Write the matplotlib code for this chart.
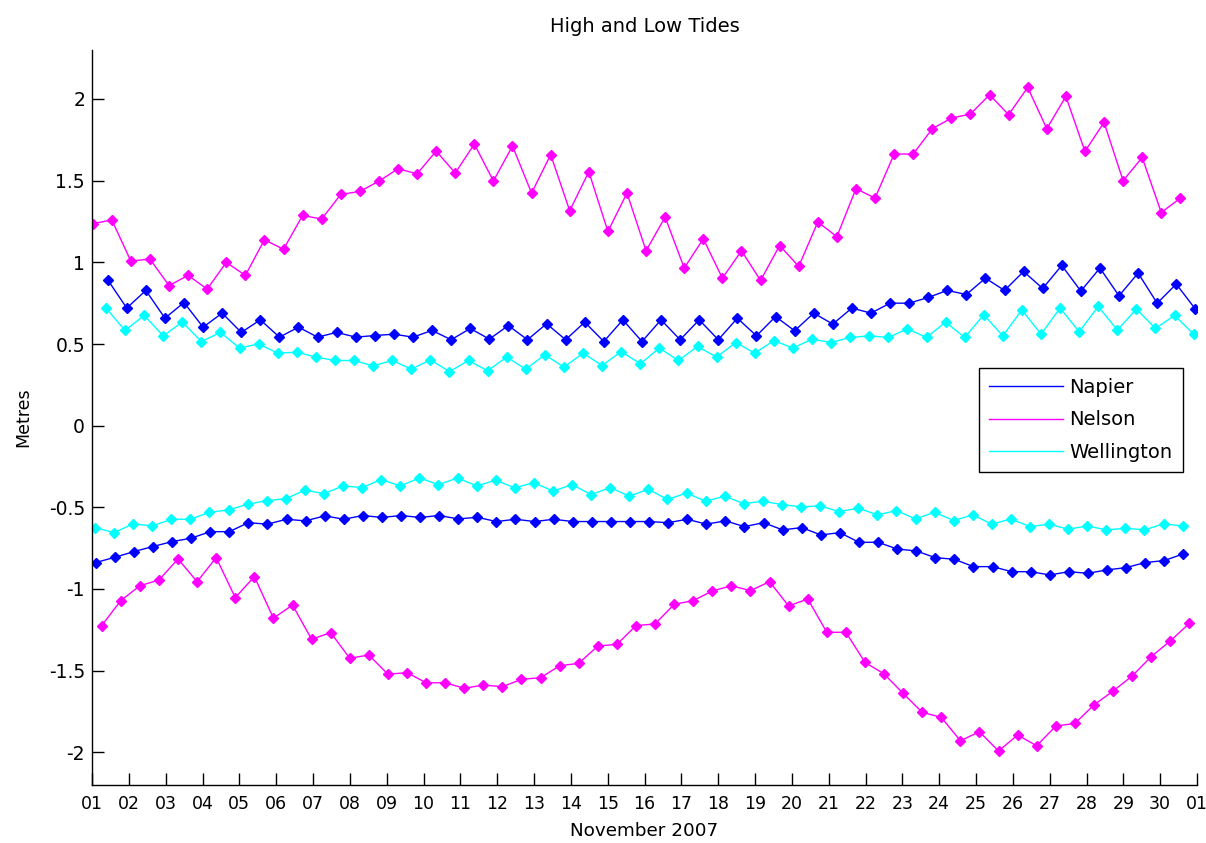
import datetime as dt

import matplotlib
matplotlib.use("Agg")
import matplotlib.pyplot as plt
import matplotlib.dates as mdates
from matplotlib.lines import Line2D
from matplotlib.ticker import FixedLocator, FuncFormatter

plt.rcParams["font.family"] = ["DejaVu Sans"]
plt.rcParams["axes.unicode_minus"] = False

# Stations and line colours
stations = ["Napier", "Nelson", "Wellington"]
station_colors = ["#0000ff", "#ff00ff", "#00ffff"]

# Time of the first high and low water at each station, November 2007
first_high = ["2007-11-01 10:13", "2007-11-01 00:27", "2007-11-01 09:07"]
first_low = ["2007-11-01 02:24", "2007-11-01 06:19", "2007-11-01 01:57"]
tide_interval_minutes = 746  # successive high (or low) waters, 12 h 26 min apart

# High-water heights (metres)
napier_high = [0.893, 0.72, 0.828, 0.658, 0.754, 0.603, 0.689, 0.571, 0.648, 0.542,
               0.603, 0.542, 0.571, 0.542, 0.552, 0.56, 0.542, 0.583, 0.526,
               0.595, 0.530, 0.613, 0.526, 0.624, 0.526, 0.634, 0.515, 0.648, 0.515,
               0.648, 0.526, 0.648, 0.526, 0.658, 0.55, 0.668, 0.581, 0.689,
               0.622, 0.72, 0.689, 0.75, 0.75, 0.785, 0.828, 0.803, 0.903, 0.828,
               0.944, 0.84, 0.981, 0.824, 0.965, 0.795, 0.934, 0.75, 0.867, 0.714]
nelson_high = [1.236, 1.26, 1.008, 1.02, 0.858, 0.92, 0.836, 1.0, 0.92, 1.138,
               1.08, 1.287, 1.265, 1.416, 1.434, 1.497, 1.573, 1.542, 1.681, 1.547,
               1.724, 1.498, 1.712, 1.424, 1.659, 1.316, 1.555, 1.189, 1.424, 1.071,
               1.277, 0.965, 1.144, 0.903, 1.071, 0.889, 1.103, 0.975, 1.247,
               1.157, 1.451, 1.393, 1.663, 1.663, 1.818, 1.883, 1.908, 2.026, 1.904,
               2.071, 1.818, 2.016, 1.679, 1.857, 1.5, 1.642, 1.305, 1.393]
wellington_high = [0.72, 0.583, 0.675, 0.55, 0.634, 0.515, 0.571, 0.475, 0.501, 0.444,
                   0.45, 0.42, 0.399, 0.399, 0.366, 0.399, 0.346, 0.403, 0.331, 0.399,
                   0.336, 0.42, 0.346, 0.434, 0.358, 0.444, 0.368, 0.454, 0.379, 0.475,
                   0.399, 0.485, 0.42, 0.509, 0.444, 0.521, 0.475, 0.53, 0.509,
                   0.54, 0.55, 0.54, 0.593, 0.54, 0.634, 0.54, 0.679, 0.55, 0.709,
                   0.56, 0.72, 0.575, 0.73, 0.585, 0.714, 0.595, 0.675, 0.56]

# Low-water heights (metres)
napier_low = [-0.838, -0.806, -0.771, -0.74, -0.71, -0.689, -0.649, -0.649, -0.594, -0.603,
              -0.573, -0.583, -0.552, -0.573, -0.55, -0.562, -0.55, -0.562, -0.55, -0.571,
              -0.561, -0.587, -0.573, -0.587, -0.573, -0.587, -0.587, -0.587, -0.587, -0.587,
              -0.594, -0.573, -0.603, -0.583, -0.618, -0.594, -0.638, -0.624,
              -0.669, -0.655, -0.714, -0.714, -0.755, -0.767, -0.808, -0.818, -0.863, -0.863,
              -0.894, -0.894, -0.914, -0.894, -0.904, -0.883, -0.869, -0.838, -0.826, -0.785]
nelson_low = [-1.224, -1.071, -0.98, -0.945, -0.816, -0.955, -0.808, -1.053, -0.924, -1.179,
              -1.098, -1.308, -1.267, -1.424, -1.404, -1.522, -1.512, -1.574, -1.574,
              -1.608, -1.588, -1.598, -1.553, -1.543, -1.47, -1.455, -1.349, -1.339, -1.224,
              -1.214, -1.094, -1.071, -1.012, -0.98, -1.01, -0.955, -1.104, -1.061,
              -1.265, -1.265, -1.449, -1.52, -1.639, -1.755, -1.786, -1.929, -1.874, -1.992,
              -1.894, -1.96, -1.839, -1.823, -1.71, -1.625, -1.533, -1.414, -1.318, -1.21]
wellington_low = [-0.624, -0.655, -0.601, -0.614, -0.573, -0.573, -0.53, -0.516, -0.481, -0.459,
                  -0.447, -0.395, -0.416, -0.369, -0.379, -0.33, -0.369, -0.32, -0.361, -0.32,
                  -0.369, -0.334, -0.381, -0.348, -0.401, -0.361,
                  -0.422, -0.379, -0.432, -0.389, -0.452, -0.412, -0.463, -0.432, -0.477, -0.463,
                  -0.483, -0.497,
                  -0.491, -0.526, -0.505, -0.546, -0.52, -0.571, -0.53, -0.581, -0.546, -0.603,
                  -0.571, -0.618, -0.603, -0.634, -0.614, -0.638, -0.628, -0.638, -0.601, -0.614]

high_series = [napier_high, nelson_high, wellington_high]
low_series = [napier_low, nelson_low, wellington_low]

y_ticks = [-2, -1.5, -1, -0.5, 0, 0.5, 1, 1.5, 2]


def tide_times(first, count):
    start = dt.datetime.strptime(first, "%Y-%m-%d %H:%M")
    step = dt.timedelta(minutes=tide_interval_minutes)
    return [start + k * step for k in range(count)]


fig = plt.figure(figsize=(12.06, 8.43), dpi=100)
ax = fig.add_axes([92 / 1206, 58 / 843, 1105 / 1206, 735 / 843])

for name, color, highs, lows, t_hi, t_lo in zip(stations, station_colors, high_series,
                                                 low_series, first_high, first_low):
    ax.plot(tide_times(t_hi, len(highs)), highs, "-", color=color, lw=1.0,
            marker="D", ms=4.8, mec=color, mfc=color)
    ax.plot(tide_times(t_lo, len(lows)), lows, "-", color=color, lw=1.0,
            marker="D", ms=4.8, mec=color, mfc=color)

ax.set_xlim(dt.datetime(2007, 11, 1), dt.datetime(2007, 12, 1))
ax.set_ylim(-2.2, 2.3)
ax.xaxis.set_major_locator(mdates.DayLocator())
ax.xaxis.set_major_formatter(mdates.DateFormatter("%d"))
ax.yaxis.set_major_locator(FixedLocator(y_ticks))
ax.yaxis.set_major_formatter(FuncFormatter(lambda v, p: f"{v:g}"))

ax.spines["top"].set_visible(False)
ax.spines["right"].set_visible(False)
for s in ("left", "bottom"):
    ax.spines[s].set_linewidth(1.0)
    ax.spines[s].set_color("black")
ax.tick_params(direction="in", length=8.5, width=1.0)
ax.tick_params(axis="y", labelsize=13.5, pad=5)
ax.tick_params(axis="x", labelsize=12.5, pad=7)

ax.set_title("High and Low Tides", fontsize=14, pad=13)
ax.set_xlabel("November 2007", fontsize=13.2, labelpad=7)
ax.set_ylabel("Metres", fontsize=12.5, labelpad=12)

handles = [Line2D([], [], color=c, lw=1.0) for c in station_colors]
leg = ax.legend(handles, stations, loc="upper right", bbox_to_anchor=(0.9873, 0.568),
                fontsize=14, handlelength=3.8, handletextpad=0.3, labelspacing=0.68,
                borderpad=0.55, fancybox=False, framealpha=1, edgecolor="black",
                borderaxespad=0)
leg.get_frame().set_linewidth(1.0)

fig.savefig("out.png", dpi=100)
